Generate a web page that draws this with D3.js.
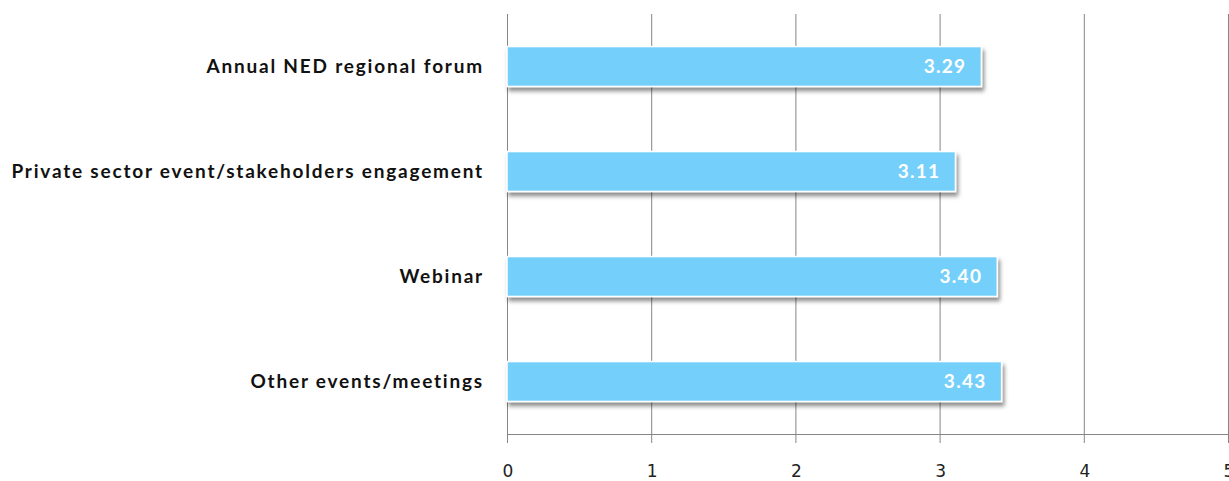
<!DOCTYPE html>
<html>
<head>
<meta charset="utf-8">
<script src="https://cdn.jsdelivr.net/npm/d3@7"></script>
<style>
  body { margin: 0; background: #fff; }
  svg { display: block; }
</style>
</head>
<body>
<script>
// Data
var categories = ["Annual NED regional forum", "Private sector event/stakeholders engagement", "Webinar", "Other events/meetings"];
var values = [3.29, 3.11, 3.40, 3.43];
var ticks = [0, 1, 2, 3, 4, 5];

// Size
var W = 1229, H = 481;
var margin = {left: 507, right: 1, top: 14, bottom: 47};
var width = W - margin.left - margin.right,
    height = H - margin.top - margin.bottom;

var svg = d3.select("body").append("svg")
    .attr("width", W)
    .attr("height", H);

// drop shadow for the bars
var defs = svg.append("defs");
var f = defs.append("filter").attr("id", "shadow")
    .attr("x", "-5%").attr("y", "-30%").attr("width", "115%").attr("height", "190%");
f.append("feDropShadow")
    .attr("dx", 2).attr("dy", 4)
    .attr("stdDeviation", 2.2)
    .attr("flood-color", "#000")
    .attr("flood-opacity", 0.45);

var g = svg.append("g")
    .attr("transform", `translate(${margin.left}, ${margin.top})`);

var x = d3.scaleLinear().domain([0, 5]).range([0, width]);
var y = d3.scaleBand().domain(categories).range([0, height]).paddingInner(0.62).paddingOuter(0.31);

// vertical gridlines
g.append("g")
    .selectAll("line")
    .data(ticks)
    .enter().append("line")
    .attr("x1", d => x(d) + 0.5).attr("x2", d => x(d) + 0.5)
    .attr("y1", 0).attr("y2", height + 9)
    .attr("stroke", "#868686")
    .attr("stroke-width", 1);

// bottom axis line
g.append("line")
    .attr("x1", 0).attr("x2", width)
    .attr("y1", height + 0.5).attr("y2", height + 0.5)
    .attr("stroke", "#868686");

// tick labels (the last one is clipped at the right edge, as in the original)
g.append("g")
    .selectAll("text")
    .data(ticks)
    .enter().append("text")
    .attr("x", d => x(d) + 1)
    .attr("y", height + 43)
    .attr("text-anchor", "middle")
    .attr("font-family", "DejaVu Sans")
    .attr("font-size", 17)
    .attr("fill", "#222")
    .text(d => d);

// bars
g.append("g")
    .selectAll("rect")
    .data(values)
    .enter().append("rect")
    .attr("x", 0)
    .attr("y", (d, i) => y(categories[i]))
    .attr("width", d => x(d))
    .attr("height", y.bandwidth())
    .attr("fill", "#75CFFB")
    .attr("stroke", "#fff")
    .attr("stroke-width", 1.5)
    .attr("filter", "url(#shadow)");

// value labels
g.append("g")
    .selectAll("text")
    .data(values)
    .enter().append("text")
    .attr("x", d => x(d) - 15)
    .attr("y", (d, i) => y(categories[i]) + y.bandwidth() / 2)
    .attr("dy", "0.36em")
    .attr("text-anchor", "end")
    .attr("font-family", "Lato")
    .attr("font-weight", "bold")
    .attr("font-size", 19)
    .attr("letter-spacing", "1.3px")
    .attr("fill", "#fff")
    .text(d => d.toFixed(2));

// category labels
svg.append("g")
    .selectAll("text")
    .data(categories)
    .enter().append("text")
    .attr("x", 484)
    .attr("y", d => margin.top + y(d) + y.bandwidth() / 2)
    .attr("dy", "0.36em")
    .attr("text-anchor", "end")
    .attr("font-family", "Lato")
    .attr("font-weight", "bold")
    .attr("font-size", 19)
    .attr("letter-spacing", "1.8px")
    .attr("fill", "#111")
    .text(d => d);
</script>
</body>
</html>
